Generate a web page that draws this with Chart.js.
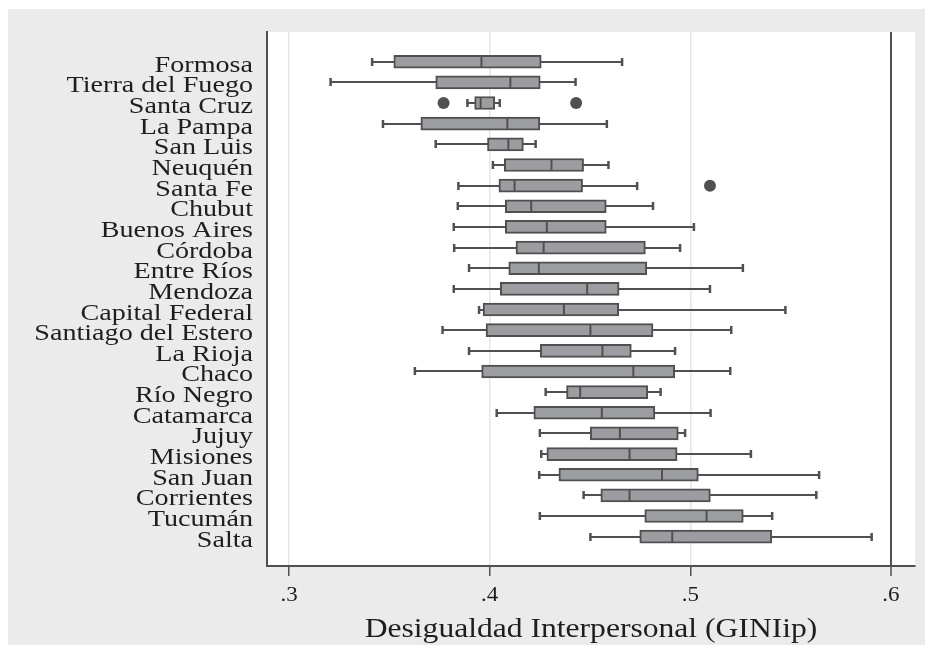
<!DOCTYPE html>
<html>
<head>
<meta charset="utf-8">
<title>Desigualdad Interpersonal</title>
<style>
    body { margin: 0; background: #fff; }
    #wrap { width: 929px; height: 649px; }
</style>
<script src="https://cdn.jsdelivr.net/npm/chart.js@4"></script>
</head>
<body>
<div id="wrap"><canvas id="chart" width="929" height="649"></canvas></div>
<script>
// provinces, top to bottom
const provinces = ['Formosa', 'Tierra del Fuego', 'Santa Cruz', 'La Pampa', 'San Luis', 'Neuquén',
    'Santa Fe', 'Chubut', 'Buenos Aires', 'Córdoba', 'Entre Ríos', 'Mendoza', 'Capital Federal',
    'Santiago del Estero', 'La Rioja', 'Chaco', 'Río Negro', 'Catamarca', 'Jujuy', 'Misiones',
    'San Juan', 'Corrientes', 'Tucumán', 'Salta'];

// box plot stats
const whiskerLow = [0.3414, 0.3207, 0.3889, 0.3468, 0.3731, 0.4016, 0.3844, 0.3841, 0.3821, 0.3823, 0.3897, 0.3821,
    0.3947, 0.3765, 0.3897, 0.3627, 0.4279, 0.4035, 0.4250, 0.4257, 0.4247, 0.4468, 0.4250, 0.4502];
const boxLow = [0.3522, 0.3731, 0.3925, 0.3657, 0.3989, 0.4073, 0.4046, 0.4078, 0.4078, 0.4131, 0.4095, 0.4053,
    0.3967, 0.3982, 0.4252, 0.3960, 0.4383, 0.4220, 0.4501, 0.4285, 0.4345, 0.4554, 0.4773, 0.4748];
const medians = [0.3959, 0.4103, 0.3955, 0.4088, 0.4093, 0.4308, 0.4124, 0.4207, 0.4285, 0.4269, 0.4245, 0.4486,
    0.4370, 0.4502, 0.4562, 0.4716, 0.4451, 0.4559, 0.4649, 0.4697, 0.4859, 0.4697, 0.5081, 0.4910];
const boxHigh = [0.4257, 0.4252, 0.4025, 0.4250, 0.4168, 0.4468, 0.4463, 0.4581, 0.4581, 0.4776, 0.4783, 0.4645,
    0.4643, 0.4814, 0.4706, 0.4922, 0.4788, 0.4823, 0.4940, 0.4934, 0.5040, 0.5100, 0.5264, 0.5406];
const whiskerHigh = [0.4660, 0.4428, 0.4050, 0.4584, 0.4229, 0.4592, 0.4735, 0.4814, 0.5018, 0.4949, 0.5262, 0.5098,
    0.5474, 0.5204, 0.4924, 0.5199, 0.4852, 0.5101, 0.4974, 0.5302, 0.5642, 0.5628, 0.5408, 0.5904];

const outlierRows = ['Santa Cruz', 'Santa Cruz', 'Santa Fe'];
const outlierValues = [0.3770, 0.4431, 0.5098];

const xTicks = [0.3, 0.4, 0.5, 0.6];
const refLine = 0.6;
const xTitle = 'Desigualdad Interpersonal (GINIip)';

const INK = '#505050';
const TEXT = '#1e1e1e';
const BOX_FILL = '#9c9da1';
const SERIF = '"Liberation Serif", "DejaVu Serif", serif';

const boxData = provinces.map((p, i) => ({ x: [boxLow[i], boxHigh[i]], y: i }));
const outlierData = outlierRows.map((p, i) => ({ x: outlierValues[i], y: provinces.indexOf(p) }));

// the original type is a wide Garamond, so stretch Liberation Serif sideways
function drawText(ctx, text, x, y, align, size, sx) {
    ctx.save();
    ctx.font = size + 'px ' + SERIF;
    ctx.fillStyle = TEXT;
    ctx.textAlign = align;
    ctx.textBaseline = 'alphabetic';
    ctx.translate(x, y);
    ctx.scale(sx, 1);
    ctx.fillText(text, 0, 0);
    ctx.restore();
}

const fmtTick = v => String(v).replace('0.', '.');

// background panels, whiskers, medians and text, all placed through the scales
const boxPlotPlugin = {
    id: 'boxPlot',
    beforeDraw(chart) {
        const ctx = chart.ctx;
        const a = chart.chartArea;
        ctx.save();
        ctx.fillStyle = '#fff';
        ctx.fillRect(0, 0, chart.width, chart.height);
        ctx.fillStyle = '#ebebeb';
        ctx.fillRect(8, 9, 917, 636);
        ctx.fillStyle = '#fff';
        ctx.fillRect(a.left, a.top, a.right - a.left, a.bottom - a.top);
        ctx.restore();
    },
    beforeDatasetsDraw(chart) {
        const ctx = chart.ctx;
        const xs = chart.scales.x, ys = chart.scales.y;
        ctx.save();
        ctx.strokeStyle = INK;
        ctx.lineWidth = 2;
        provinces.forEach((p, i) => {
            const y = Math.round(ys.getPixelForValue(i));
            ctx.beginPath();
            ctx.moveTo(xs.getPixelForValue(whiskerLow[i]), y);
            ctx.lineTo(xs.getPixelForValue(whiskerHigh[i]), y);
            ctx.stroke();
        });
        ctx.lineWidth = 2.5;
        provinces.forEach((p, i) => {
            const y = Math.round(ys.getPixelForValue(i));
            [whiskerLow[i], whiskerHigh[i]].forEach(v => {
                const x = xs.getPixelForValue(v);
                ctx.beginPath();
                ctx.moveTo(x, y - 4);
                ctx.lineTo(x, y + 4);
                ctx.stroke();
            });
        });
        ctx.restore();
    },
    afterDatasetsDraw(chart) {
        const ctx = chart.ctx;
        const xs = chart.scales.x, ys = chart.scales.y;
        ctx.save();
        ctx.strokeStyle = INK;
        ctx.lineWidth = 2;
        provinces.forEach((p, i) => {
            const y = ys.getPixelForValue(i);
            const x = xs.getPixelForValue(medians[i]);
            ctx.beginPath();
            ctx.moveTo(x, y - 6);
            ctx.lineTo(x, y + 6);
            ctx.stroke();
        });
        ctx.restore();
    },
    afterDraw(chart) {
        const ctx = chart.ctx;
        const xs = chart.scales.x, ys = chart.scales.y;
        const a = chart.chartArea;
        provinces.forEach((p, i) => {
            drawText(ctx, p, a.left - 14, ys.getPixelForValue(i) + 10, 'right', 22.5, 1.25);
        });
        xTicks.forEach(v => {
            drawText(ctx, fmtTick(v), xs.getPixelForValue(v), a.bottom + 35, 'center', 20, 1.15);
        });
        drawText(ctx, xTitle, (a.left + a.right) / 2, a.bottom + 71, 'center', 27, 1.17);
    }
};

new Chart(document.getElementById('chart'), {
    type: 'bar',
    data: {
        datasets: [{
            type: 'bar',
            data: boxData,
            backgroundColor: BOX_FILL,
            borderColor: INK,
            borderWidth: 2,
            borderSkipped: false,
            barThickness: 13,
            order: 2
        }, {
            type: 'scatter',
            data: outlierData,
            backgroundColor: INK,
            borderColor: INK,
            pointRadius: 6,
            pointBorderWidth: 0,
            order: 1
        }]
    },
    options: {
        responsive: false,
        animation: false,
        devicePixelRatio: 1,
        indexAxis: 'y',
        layout: { padding: { top: 32, right: 14, left: 0, bottom: 0 } },
        plugins: { legend: { display: false }, tooltip: { enabled: false } },
        scales: {
            x: {
                type: 'linear',
                min: 0.289,
                max: 0.612,
                afterBuildTicks: s => { s.ticks = xTicks.map(v => ({ value: v })); },
                afterFit: s => { s.height = 83; },
                grid: {
                    color: c => c.tick && c.tick.value === refLine ? INK : '#e6e6e6',
                    lineWidth: c => c.tick && c.tick.value === refLine ? 2 : 1.5,
                    tickColor: INK,
                    tickLength: 10,
                    tickWidth: 1.5
                },
                border: { display: true, color: INK, width: 2 },
                ticks: { display: false },
                title: { display: false }
            },
            y: {
                type: 'linear',
                reverse: true,
                offset: false,
                min: -1.44,
                max: 24.42,
                afterBuildTicks: s => { s.ticks = provinces.map((p, i) => ({ value: i })); },
                afterFit: s => { s.width = 267; },
                grid: { display: false, drawTicks: false, offset: false },
                border: { display: true, color: INK, width: 2 },
                ticks: { display: false }
            }
        }
    },
    plugins: [boxPlotPlugin]
});
</script>
</body>
</html>
